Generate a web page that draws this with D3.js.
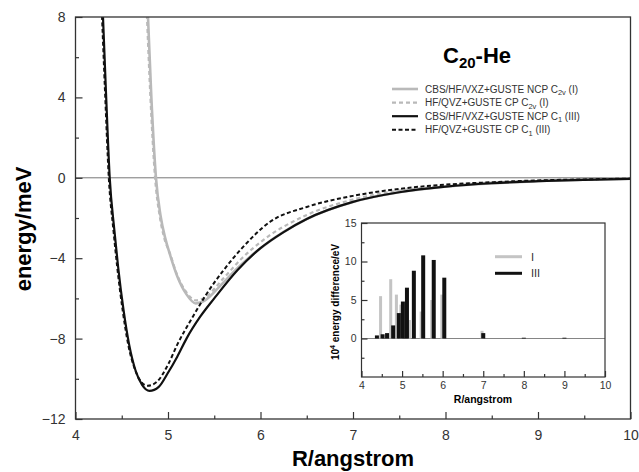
<!DOCTYPE html>
<html>
<head>
<meta charset="utf-8">
<script src="https://cdn.jsdelivr.net/npm/d3@7"></script>
<style>
  body { margin: 0; background: #fff; }
  svg { font-family: "Liberation Sans", Arial, sans-serif; }
</style>
</head>
<body>
<svg id="chart" width="639" height="472"></svg>
<script>
// main curves, R in angstrom, energy in meV
let rNcpC1 = [4.28, 4.33, 4.37, 4.42, 4.46, 4.52, 4.58, 4.65, 4.72, 4.8, 4.9, 5.0, 5.1, 5.2, 5.35, 5.5, 5.75, 6.0, 6.25, 6.5, 7.0, 7.5, 8.0, 8.5, 9.0, 9.5, 10.0];
let eNcpC1 = [10.0, 4.2, 0, -2.6, -4.4, -6.6, -8.3, -9.6, -10.3, -10.6, -10.4, -9.7, -8.9, -8.0, -6.9, -6.0, -4.6, -3.5, -2.7, -2.05, -1.2, -0.72, -0.44, -0.27, -0.17, -0.1, -0.05];

let rCpC1 = [4.27, 4.32, 4.36, 4.41, 4.45, 4.51, 4.57, 4.64, 4.71, 4.78, 4.88, 5.0, 5.1, 5.27, 5.4, 5.6, 5.8, 6.1, 6.5, 7.0, 7.5, 8.0, 8.5, 9.0, 9.5, 10.0];
let eCpC1 = [10.0, 4.2, 0, -2.6, -4.4, -6.6, -8.3, -9.5, -10.15, -10.35, -10.15, -9.3, -8.3, -6.9, -5.9, -4.6, -3.5, -2.2, -1.45, -0.9, -0.55, -0.34, -0.22, -0.13, -0.08, -0.04];

let rNcpC2v = [4.77, 4.82, 4.87, 4.92, 4.97, 5.02, 5.1, 5.2, 5.3, 5.4, 5.56, 5.75, 6.0, 6.5, 7.0, 7.5, 8.0, 9.0, 10.0];
let eNcpC2v = [9.5, 4.0, 0, -1.9, -3.0, -3.8, -4.9, -5.8, -6.25, -6.1, -5.4, -4.5, -3.5, -2.05, -1.2, -0.72, -0.44, -0.17, -0.05];

let rCpC2v = [4.76, 4.81, 4.86, 4.91, 4.96, 5.02, 5.1, 5.2, 5.3, 5.4, 5.6, 5.8, 6.0, 6.5, 7.0, 7.5, 8.0, 9.0, 10.0];
let eCpC2v = [9.5, 4.0, 0, -1.9, -3.0, -3.75, -4.85, -5.7, -6.1, -5.95, -5.0, -4.0, -3.2, -1.85, -1.08, -0.64, -0.39, -0.14, -0.04];

// inset bars, 10^4 energy difference / eV
let rBarsI = [4.47, 4.72, 4.86, 4.97, 5.18, 5.47, 5.73, 5.98, 6.97];
let dBarsI = [5.5, 7.7, 5.7, 4.4, 2.4, 3.5, 5.0, 5.7, 1.0];
let rBarsIII = [4.38, 4.52, 4.63, 4.78, 4.92, 5.02, 5.12, 5.29, 5.52, 5.78, 6.04, 7.0, 8.0, 9.0];
let dBarsIII = [0.4, 0.55, 0.7, 1.7, 3.3, 4.8, 6.6, 8.8, 10.8, 10.2, 7.9, 0.7, 0.1, 0.1];

let xTicks = [4, 5, 6, 7, 8, 9, 10];
let yTicks = [-12, -8, -4, 0, 4, 8];
let insetYTicks = [0, 5, 10, 15];

let legendNames = [
  ["CBS/HF/VXZ+GUSTE NCP C", "2v", " (I)"],
  ["HF/QVZ+GUSTE CP C", "2v", " (I)"],
  ["CBS/HF/VXZ+GUSTE NCP C", "1", " (III)"],
  ["HF/QVZ+GUSTE CP C", "1", " (III)"]
];

let series = [
  {r: rNcpC2v, e: eNcpC2v, color: "#b9b9b9", width: 2.6, dash: null},
  {r: rCpC2v, e: eCpC2v, color: "#b9b9b9", width: 2.2, dash: "4,3"},
  {r: rNcpC1, e: eNcpC1, color: "#111", width: 2.2, dash: null},
  {r: rCpC1, e: eCpC1, color: "#111", width: 2.0, dash: "4,2.5"}
];

let svg = d3.select("#chart");
let axisColor = "#333";

let x = d3.scaleLinear().domain([4, 10]).range([75.5, 630.5]);
let y = d3.scaleLinear().domain([-12, 8]).range([419, 17]);

svg.append("defs").append("clipPath").attr("id", "plotClip")
  .append("rect").attr("x", 75.5).attr("y", 17).attr("width", 555).attr("height", 402);

// zero line
svg.append("line")
  .attr("x1", x(4)).attr("x2", x(10))
  .attr("y1", y(0)).attr("y2", y(0))
  .attr("stroke", "#777").attr("stroke-width", 1);

let line = d3.line()
  .x(d => x(d[0]))
  .y(d => y(d[1]))
  .curve(d3.curveMonotoneX);

let curves = svg.append("g").attr("clip-path", "url(#plotClip)");
series.forEach(function (s) {
  let pts = s.r.map((r, i) => [r, s.e[i]]);
  curves.append("path")
    .attr("d", line(pts))
    .attr("fill", "none")
    .attr("stroke", s.color)
    .attr("stroke-width", s.width)
    .attr("stroke-dasharray", s.dash);
});

// frame
svg.append("rect")
  .attr("x", 75.5).attr("y", 17).attr("width", 555).attr("height", 402)
  .attr("fill", "none").attr("stroke", axisColor).attr("stroke-width", 1.3);

let styleAxis = function (g, size) {
  g.select(".domain").remove();
  g.selectAll("line").attr("stroke", axisColor).attr("stroke-width", 1.2);
  g.selectAll("text").attr("fill", "#333").style("font-size", size + "px");
}

svg.append("g").attr("transform", "translate(0,419)")
  .call(d3.axisBottom(x).tickValues(xTicks).tickSize(-7).tickPadding(11).tickFormat(d3.format("d")))
  .call(g => styleAxis(g, 14));
svg.append("g").attr("transform", "translate(0,419)")
  .call(d3.axisBottom(x).tickValues(d3.range(4.5, 10, 1)).tickSize(-3.5).tickFormat(""))
  .call(g => styleAxis(g, 14));

svg.append("g").attr("transform", "translate(75.5,0)")
  .call(d3.axisLeft(y).tickValues(yTicks).tickSize(-7).tickPadding(10).tickFormat(d => d < 0 ? "\u2212" + Math.abs(d) : d))
  .call(g => styleAxis(g, 14));
svg.append("g").attr("transform", "translate(75.5,0)")
  .call(d3.axisLeft(y).tickValues(d3.range(-10, 8, 4)).tickSize(-3.5).tickFormat(""))
  .call(g => styleAxis(g, 14));

svg.append("text")
  .attr("x", 353).attr("y", 466)
  .attr("text-anchor", "middle")
  .style("font-size", "22px").style("font-weight", "bold")
  .text("R/angstrom");

svg.append("text")
  .attr("transform", "translate(31,229) rotate(-90)")
  .attr("text-anchor", "middle")
  .style("font-size", "22px").style("font-weight", "bold")
  .text("energy/meV");

// title
let title = svg.append("text")
  .attr("x", 443).attr("y", 63)
  .style("font-size", "22px").style("font-weight", "bold");
title.append("tspan").text("C");
title.append("tspan").attr("dy", 5).style("font-size", "15px").text("20");
title.append("tspan").attr("dy", -5).text("-He");

// legend
let legend = svg.append("g");
series.forEach(function (s, i) {
  let ly = 89 + i * 13.6;
  legend.append("line")
    .attr("x1", 392).attr("x2", 418)
    .attr("y1", ly).attr("y2", ly)
    .attr("stroke", s.color)
    .attr("stroke-width", s.width)
    .attr("stroke-dasharray", s.dash);
  let t = legend.append("text")
    .attr("x", 425).attr("y", ly + 3.5)
    .attr("fill", "#333")
    .style("font-size", "10px");
  t.append("tspan").text(legendNames[i][0]);
  t.append("tspan").attr("dy", 2.5).style("font-size", "7.5px").text(legendNames[i][1]);
  t.append("tspan").attr("dy", -2.5).text(legendNames[i][2]);
});

// inset
let ix = d3.scaleLinear().domain([4, 10]).range([361.5, 605]);
let iy = d3.scaleLinear().domain([-5, 15]).range([377, 223]);

svg.append("rect")
  .attr("x", 361.5).attr("y", 223).attr("width", 243.5).attr("height", 154)
  .attr("fill", "#fff");

svg.append("line")
  .attr("x1", ix(4)).attr("x2", ix(10))
  .attr("y1", iy(0)).attr("y2", iy(0))
  .attr("stroke", "#777").attr("stroke-width", 0.9);

svg.append("g").selectAll("rect")
  .data(rBarsI.map((r, i) => ({r: r, d: dBarsI[i]})))
  .join("rect")
  .attr("x", d => ix(d.r) - 1.5)
  .attr("width", 3)
  .attr("y", d => iy(d.d))
  .attr("height", d => iy(0) - iy(d.d))
  .attr("fill", "#c4c4c4");

svg.append("g").selectAll("rect")
  .data(rBarsIII.map((r, i) => ({r: r, d: dBarsIII[i]})))
  .join("rect")
  .attr("x", d => ix(d.r) - 2)
  .attr("width", 4)
  .attr("y", d => iy(d.d))
  .attr("height", d => iy(0) - iy(d.d))
  .attr("fill", "#111");

svg.append("rect")
  .attr("x", 361.5).attr("y", 223).attr("width", 243.5).attr("height", 154)
  .attr("fill", "none").attr("stroke", axisColor).attr("stroke-width", 1.2);

svg.append("g").attr("transform", "translate(0,377)")
  .call(d3.axisBottom(ix).tickValues(xTicks).tickSize(-6).tickPadding(5).tickFormat(d3.format("d")))
  .call(g => styleAxis(g, 10.5));
svg.append("g").attr("transform", "translate(0,377)")
  .call(d3.axisBottom(ix).tickValues(d3.range(4.5, 10, 1)).tickSize(-3).tickFormat(""))
  .call(g => styleAxis(g, 10.5));

svg.append("g").attr("transform", "translate(361.5,0)")
  .call(d3.axisLeft(iy).tickValues(insetYTicks).tickSize(-6).tickPadding(5).tickFormat(d3.format("d")))
  .call(g => styleAxis(g, 10.5));
svg.append("g").attr("transform", "translate(361.5,0)")
  .call(d3.axisLeft(iy).tickValues([-2.5, 2.5, 7.5, 12.5]).tickSize(-3).tickFormat(""))
  .call(g => styleAxis(g, 10.5));

svg.append("text")
  .attr("x", 483).attr("y", 403)
  .attr("text-anchor", "middle")
  .style("font-size", "10.5px").style("font-weight", "bold")
  .text("R/angstrom");

let iyl = svg.append("text")
  .attr("transform", "translate(339,302) rotate(-90)")
  .attr("text-anchor", "middle")
  .style("font-size", "10px").style("font-weight", "bold");
iyl.append("tspan").text("10");
iyl.append("tspan").attr("dy", -4).style("font-size", "7px").text("4");
iyl.append("tspan").attr("dy", 4).text(" energy difference/eV");

// inset legend
let insetLegend = [["I", "#c4c4c4"], ["III", "#111"]];
insetLegend.forEach(function (d, i) {
  let ly = 256.7 + i * 16.6;
  svg.append("line")
    .attr("x1", 495).attr("x2", 522)
    .attr("y1", ly).attr("y2", ly)
    .attr("stroke", d[1]).attr("stroke-width", 3);
  svg.append("text")
    .attr("x", 531).attr("y", ly + 4)
    .attr("fill", "#333")
    .style("font-size", "11px")
    .text(d[0]);
});
</script>
</body>
</html>
